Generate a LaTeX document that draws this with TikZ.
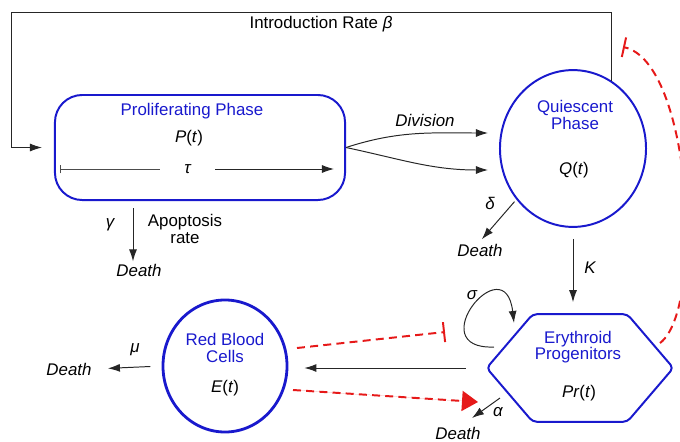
\documentclass[tikz,border=0pt]{standalone}
\usepackage{fontspec}
\setmainfont{Liberation Sans}
\usetikzlibrary{shapes.geometric,arrows.meta,calc}
\definecolor{cellblue}{RGB}{25,25,205}
\definecolor{inhibred}{RGB}{230,25,25}

\begin{document}
\begin{tikzpicture}[x=0.025cm,y=-0.025cm,>={Latex[length=0.3cm,width=0.2cm]},
    font=\fontsize{12}{11.5}\selectfont]
    \tikzstyle{every node}=[inner sep=1.5pt]
    \tikzstyle{compartment}=[draw=cellblue,line width=1.4pt]
    \tikzstyle{phase box}=[compartment,rectangle,rounded corners=0.68cm,minimum width=7.25cm,minimum height=2.625cm]
    \tikzstyle{phase circle}=[compartment,ellipse,inner sep=0pt]
    \tikzstyle{title}=[text=cellblue,align=center]
    \tikzstyle{rate}=[font=\fontsize{12}{11.5}\selectfont\itshape]
    \tikzstyle{flow}=[->,draw=black!85,line width=0.7pt]
    \tikzstyle{control}=[draw=inhibred,line width=1.4pt,dash pattern=on 0.2cm off 0.13cm]

    \useasboundingbox (0,0) rectangle (680,442);

    % Compartments
    \node[phase box] (P) at (200,147.5) {};
    \node[phase circle,minimum width=3.65cm,minimum height=3.92cm] (Q) at (573,148.5) {};
    \node[phase circle,line width=2pt,minimum width=3.1cm,minimum height=3.3cm] (E) at (225,366) {};
    \node[minimum width=4.65cm,minimum height=2.675cm,inner sep=0pt] (Pr) at (580,368) {};
    \draw[compartment,rounded corners=3pt] (Pr.west) -- ($(Pr.north west)+(46,0)$)
        -- ($(Pr.north east)+(-46,0)$) -- (Pr.east) -- ($(Pr.south east)+(-46,0)$)
        -- ($(Pr.south west)+(46,0)$) -- cycle;

    % Texts inside the compartments
    \node[title] (Ptitle) at (192,111) {Proliferating Phase};
    \node (Pt) at (189,138) {\textit{P}(\textit{t})};
    \node[title] (Qtitle) at (575,115) {Quiescent\\Phase};
    \node (Qt) at (574,170) {\textit{Q}(\textit{t})};
    \node[title] (Etitle) at (225,348) {Red Blood\\Cells};
    \node (Et) at (225,388) {\textit{E}(\textit{t})};
    \node[title] (Prtitle) at (578,347) {Erythroid\\Progenitors};
    \node (Prt) at (579,393) {\textit{Pr}(\textit{t})};

    % Rates and outcomes
    \node (beta) at (321,24) {Introduction Rate \textit{β}};
    \node[rate,minimum width=1.375cm,inner sep=0pt] (tau) at (187.5,169) {τ};
    \node[rate] (div) at (425,120) {Division};
    \node[rate] (delta) at (490,203) {δ};
    \node[rate] (dQ) at (480,250) {Death};
    \node[rate] (K) at (590,268) {K};
    \node[rate] (sigma) at (472,295) {σ};
    \node[rate] (alpha) at (498,412) {α};
    \node[rate] (dPr) at (458,433) {Death};
    \node[rate] (mu) at (135,350) {μ};
    \node[rate] (dE) at (69,369) {Death};
    \node[rate] (gamma) at (110,225) {γ};
    \node[align=center] (apop) at (185,229) {Apoptosis\\rate};
    \node[rate] (dP) at (139,270) {Death};

    \coordinate (topL) at (11,12);
    \coordinate (tauL) at (60,169);
    \coordinate (tauR) at (334,169);
    \coordinate (divA) at (488,133);
    \coordinate (divB) at (488,170);
    \coordinate (sigA) at (494,347);
    \coordinate (sigB) at (514,323);
    \coordinate (alphaA) at (500,398);
    \coordinate (alphaB) at (472,418);
    \coordinate (gamA) at (133,208);
    \coordinate (inhA) at (297,348);
    \coordinate (inhB) at (445,332);
    \coordinate (actA) at (293,390);
    \coordinate (actB) at (478,402);
    \coordinate (fbA) at (660,343);
    \coordinate (fbB) at (623,47);

    % Cell flows
    \draw[flow,shorten >=0.3cm] (Q.60) |- (topL) |- (P.west);
    \draw[draw=black!70,line width=0.7pt,{Bar[width=0.22cm]}-] (tauL) -- (tau.west);
    \draw[flow] (tau.east) -- (tauR);
    \draw[flow] (P.east) to[out=18,in=180] (divA);
    \draw[flow] (P.east) to[out=-12,in=180] (divB);
    \draw[flow,shorten <=2pt,shorten >=2pt] (Q.222) -- (dQ.north);
    \draw[flow,shorten <=0.275cm,shorten >=0.3cm] (Q.south) -- (Q.south |- Pr.north);
    \draw[flow] (sigA) .. controls (420,350) and (505,245) .. (sigB);
    \draw[flow] (alphaA) -- (alphaB);
    \draw[flow,shorten <=0.525cm,shorten >=0.4cm] (Pr.west) -- (Pr.west -| E.east);
    \draw[flow,shorten <=0.28cm,shorten >=0.35cm] (E.west) -- (dE.east);
    \draw[flow] (gamA) -- (gamA |- dP.north);

    % Feedback controls
    \draw[control,-{Bar[width=0.5cm,line width=1.4pt]}] (inhA) -- (inhB);
    \draw[control,-{Triangle[length=0.4cm,width=0.5cm]},fill=inhibred] (actA) -- (actB);
    \draw[control,-{Bar[width=0.5cm,line width=1.4pt]}] (fbA) .. controls (705,310) and (692,62) .. (fbB);
\end{tikzpicture}
\end{document}
